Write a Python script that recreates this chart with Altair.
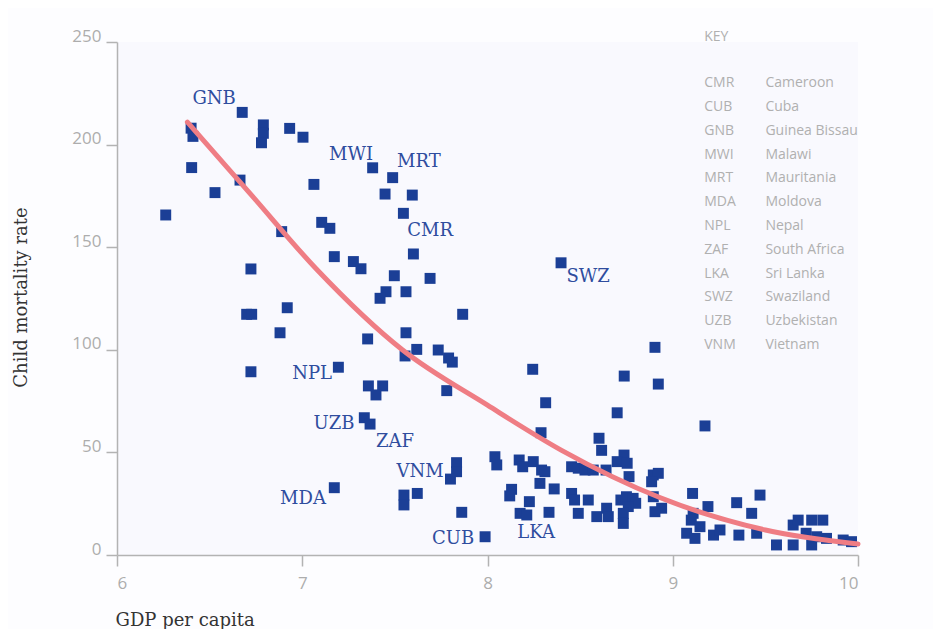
import altair as alt
import pandas as pd

# Scatter data (log GDP per capita vs child mortality)
gdp = [6.263, 6.40, 6.41, 6.403, 6.529, 6.664, 6.676, 6.79, 6.79, 6.78, 6.932, 7.004,
       7.063, 7.105, 7.149, 6.889, 6.723, 6.70, 6.727, 6.919, 6.88, 6.723,
       7.38, 7.488, 7.447, 7.594, 7.546, 7.60, 7.173, 7.276, 7.317, 7.497, 7.69,
       7.452, 7.42, 7.56, 7.866, 7.353, 7.56, 7.618, 7.555, 7.734, 7.79, 7.81,
       7.195, 7.78, 7.357, 7.434, 7.398, 7.335, 7.366,
       7.833, 7.833, 7.80, 8.04, 8.05, 7.173, 7.549, 7.549, 7.621, 7.861, 7.987,
       8.171, 8.19, 8.13, 8.12,
       8.397, 8.904, 8.244, 8.738, 8.922, 8.314, 8.70, 8.289, 8.602, 8.616,
       8.247, 8.292, 8.31, 8.283, 8.36, 8.454, 8.49, 8.526, 8.571,
       8.454, 8.47, 8.544, 8.49, 8.226, 8.176, 8.212, 8.332, 8.64,
       8.737, 8.70, 8.754, 8.764, 8.895, 8.922, 8.886, 8.59, 8.643, 8.652,
       8.72, 8.75, 8.786, 8.80, 8.76, 8.733, 8.733, 8.895, 8.94, 8.904,
       9.174, 9.107, 9.19, 9.11, 9.10, 9.075, 9.12, 9.147, 9.22, 9.255,
       9.345, 9.471, 9.426, 9.453, 9.357,
       9.56, 9.65, 9.677, 9.65, 9.75, 9.81, 9.72, 9.777, 9.83, 9.75, 9.92, 9.965]
mortality = [165.7, 208, 204, 188.8, 176.6, 182.7, 215.7, 209.6, 205.5, 200.9, 207.9, 203.6,
             180.6, 162.1, 159.2, 157.6, 139.4, 117.3, 117.3, 120.5, 108.3, 89.3,
             188.7, 183.9, 175.9, 175.4, 166.5, 146.7, 145.4, 143, 139.5, 136.1, 134.8,
             128.3, 125.1, 128.3, 117.3, 105.3, 108.3, 100.2, 97, 99.9, 96, 94,
             91.5, 80.1, 82.4, 82.4, 78, 66.9, 63.8,
             45, 40.6, 37, 47.9, 43.9, 32.8, 29.2, 24.4, 30, 20.8, 8.9,
             46.3, 43, 32, 28.8,
             142.4, 101.2, 90.5, 87.2, 83.3, 74.2, 69.3, 59.6, 56.9, 51,
             45.5, 41.4, 40.6, 34.9, 32.2, 43, 42.3, 41.4, 41.4,
             30, 26.8, 26.8, 20.3, 26, 20.3, 19.5, 20.8, 41.4,
             48.7, 45.5, 44.7, 38.2, 39, 39.8, 35.7, 18.7, 22.8, 18.7,
             26.8, 28.4, 27.6, 25.2, 23.6, 20.3, 15.4, 28.4, 22.8, 21.1,
             62.9, 30, 23.6, 20.3, 17, 10.6, 8.1, 13.8, 9.7, 12.2,
             25.5, 29.2, 20.3, 10.6, 9.7,
             4.9, 14.6, 17, 4.9, 17, 17, 10.6, 8.9, 8.1, 4.9, 7.3, 6.5]

# Fitted trend curve
curve_x = [6.38, 6.72, 7.08, 7.54, 8.0, 8.4, 8.93, 9.5, 10.0]
curve_y = [211, 176, 139, 100, 73, 51, 28, 12.2, 5.4]

# Labelled countries (label anchor in data units)
label_code = ["GNB", "MWI", "MRT", "CMR", "SWZ", "NPL", "UZB", "ZAF", "VNM", "MDA", "CUB", "LKA"]
label_x = [6.524, 7.263, 7.630, 7.690, 8.543, 7.053, 7.171, 7.501, 7.636, 7.004, 7.814, 8.262]
label_y = [222.2, 194.9, 191.5, 157.9, 135.5, 88.2, 63.8, 55.1, 40.4, 27.3, 7.8, 10.7]

# Key
key_codes = ["CMR", "CUB", "GNB", "MWI", "MRT", "MDA", "NPL", "ZAF", "LKA", "SWZ", "UZB", "VNM"]
key_names = ["Cameroon", "Cuba", "Guinea Bissau", "Malawi", "Mauritania", "Moldova", "Nepal",
             "South Africa", "Sri Lanka", "Swaziland", "Uzbekistan", "Vietnam"]

pts = pd.DataFrame({"gdp": gdp, "mort": mortality})
curve = pd.DataFrame({"gdp": curve_x, "mort": curve_y})
labels = pd.DataFrame({"code": label_code, "gdp": label_x, "mort": label_y})
key = pd.DataFrame({"code": key_codes, "name": key_names, "row": list(range(len(key_codes)))})
key_title = pd.DataFrame({"t": ["KEY"]})

xs = alt.Scale(domain=[6, 10], nice=False, zero=False)
ys = alt.Scale(domain=[0, 250], nice=False)

x_axis = alt.Axis(values=[6, 7, 8, 9, 10], format="d", title="GDP per capita", grid=False,
                  tickSize=11, labelPadding=9, titleAnchor="start", titleAlign="left",
                  titleX=-2, titleY=70, titleBaseline="alphabetic")
y_axis = alt.Axis(values=[0, 50, 100, 150, 200, 250], format="d", title="Child mortality rate",
                  grid=False, tickSize=11, labelPadding=5, labelOffset=-6, titleAngle=270,
                  titleX=-96, titleY=255, titleAlign="center", titleBaseline="middle")

base_x = alt.X("gdp:Q", scale=xs, axis=x_axis)
base_y = alt.Y("mort:Q", scale=ys, axis=y_axis)

points = alt.Chart(pts).mark_square(size=120, color="#1b3f96", opacity=1).encode(x=base_x, y=base_y)

line = alt.Chart(curve).mark_line(color="#ef7d84", strokeWidth=5, interpolate="monotone",
                                  strokeCap="round").encode(
    x=alt.X("gdp:Q", scale=xs), y=alt.Y("mort:Q", scale=ys))

text = alt.Chart(labels).mark_text(font="DejaVu Serif", fontSize=18, color="#2f4d9e",
                                   align="center", baseline="middle").encode(
    x=alt.X("gdp:Q", scale=xs), y=alt.Y("mort:Q", scale=ys), text="code:N")

key_head = alt.Chart(key_title).mark_text(font="Open Sans", fontSize=14, color="#b0b0b0",
                                          align="left", baseline="middle").encode(
    x=alt.datum(9.17, scale=xs), y=alt.datum(252.5, scale=ys), text="t:N")

key_code_txt = alt.Chart(key).transform_calculate(
    ky="229.9 - 11.6 * datum.row", kx="9.17").mark_text(
    font="Open Sans", fontSize=14, color="#b0b0b0", align="left", baseline="middle").encode(
    x=alt.X("kx:Q", scale=xs), y=alt.Y("ky:Q", scale=ys), text="code:N")

key_name_txt = alt.Chart(key).transform_calculate(
    ky="229.9 - 11.6 * datum.row", kx="9.50").mark_text(
    font="Open Sans", fontSize=14, color="#b0b0b0", align="left", baseline="middle").encode(
    x=alt.X("kx:Q", scale=xs), y=alt.Y("ky:Q", scale=ys), text="name:N")

chart = alt.layer(points, line, text, key_head, key_code_txt, key_name_txt).properties(
    width=741, height=513,
    autosize=alt.AutoSizeParams(type="none"),
    padding={"left": 109, "top": 34, "right": 75, "bottom": 74},
    background="#fdfdff",
).configure_view(
    fill="#f9f9fe", stroke=None
).configure_axis(
    domainColor="#b3b3b3", tickColor="#b3b3b3", domainWidth=1.5, tickWidth=1.5,
    labelFont="Open Sans", labelFontSize=17, labelColor="#adadad",
    titleFont="DejaVu Serif", titleFontSize=18, titleColor="#333333", titleFontWeight="normal"
)

chart.save("out.html", embed_options={"renderer": "svg", "actions": False})
